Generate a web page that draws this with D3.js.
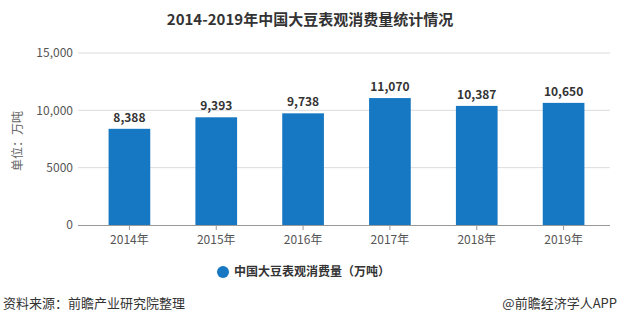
<!DOCTYPE html>
<html>
<head>
<meta charset="utf-8">
<script src="https://cdn.jsdelivr.net/npm/d3@7/dist/d3.min.js"></script>
<style>
  html, body { margin: 0; padding: 0; background: #fff; }
  svg { display: block; font-family: "Microsoft YaHei", "Noto Sans CJK SC", sans-serif; }
</style>
</head>
<body>
<svg id="chart" width="620" height="323"></svg>
<script>
// Apparent soybean consumption in China, 10k tonnes
const years = ["2014年", "2015年", "2016年", "2017年", "2018年", "2019年"];
const consumption = [8388, 9393, 9738, 11070, 10387, 10650];
const yTicks = [0, 5000, 10000, 15000];
const yTickLabels = ["0", "5000", "10,000", "15,000"];

const svg = d3.select("#chart");
const margin = { left: 86, right: 13, top: 53, bottom: 98 };
const W = 620, H = 323;

const x = d3.scaleBand().domain(years).range([margin.left, W - margin.right]).paddingInner(0.52).paddingOuter(0.26);
const y = d3.scaleLinear().domain([0, 15000]).range([H - margin.bottom, margin.top]);

// title
svg.append("text").attr("x", 310).attr("y", 25).attr("text-anchor", "middle")
  .attr("font-size", 15).attr("font-weight", "bold").attr("fill", "#333")
  .text("2014-2019年中国大豆表观消费量统计情况");

// gridlines
svg.append("g").selectAll("line").data(yTicks.slice(1)).join("line")
  .attr("x1", 78).attr("x2", 610).attr("y1", d => y(d)).attr("y2", d => y(d))
  .attr("stroke", "#dcdcdc").attr("stroke-width", 1);

// y tick labels
svg.append("g").selectAll("text").data(yTicks).join("text")
  .attr("x", 73).attr("y", d => y(d)).attr("dy", "0.35em").attr("text-anchor", "end")
  .attr("font-size", 12).attr("fill", "#555")
  .text((d, i) => yTickLabels[i]);

// y axis title
svg.append("text").attr("transform", `translate(22,${(y(0) + y(15000)) / 2 + 2}) rotate(-90)`)
  .attr("text-anchor", "middle").attr("font-size", 12).attr("fill", "#666")
  .text("单位：万吨");

// bars
svg.append("g").selectAll("rect").data(consumption).join("rect")
  .attr("x", (d, i) => x(years[i])).attr("width", x.bandwidth())
  .attr("y", d => y(d)).attr("height", d => y(0) - y(d))
  .attr("fill", "#1677c3");

// value labels
svg.append("g").selectAll("text").data(consumption).join("text")
  .attr("x", (d, i) => x(years[i]) + x.bandwidth() / 2).attr("y", d => y(d) - 7)
  .attr("text-anchor", "middle").attr("font-size", 12).attr("font-weight", "bold").attr("fill", "#333")
  .text(d => d3.format(",")(d));

// x axis
const xAxis = d3.axisBottom(x).tickSize(5).tickSizeOuter(0);
const gx = svg.append("g").attr("transform", `translate(0,${y(0)})`).call(xAxis);
gx.select(".domain").attr("d", `M78,0.5H610`).attr("stroke", "#999");
gx.selectAll(".tick line").attr("stroke", "#999");
gx.selectAll(".tick text").attr("font-size", 12).attr("fill", "#555").attr("dy", "0.9em")
  .attr("font-family", "\"Microsoft YaHei\", \"Noto Sans CJK SC\", sans-serif");

// legend
svg.append("circle").attr("cx", 223).attr("cy", 272).attr("r", 6).attr("fill", "#1677c3");
svg.append("text").attr("x", 234).attr("y", 272).attr("dy", "0.35em")
  .attr("font-size", 12).attr("font-weight", "bold").attr("fill", "#333")
  .text("中国大豆表观消费量（万吨）");

// footer
svg.append("text").attr("x", 3).attr("y", 303).attr("dy", "0.35em")
  .attr("font-size", 13).attr("fill", "#333").text("资料来源：前瞻产业研究院整理");
svg.append("text").attr("x", 617).attr("y", 303).attr("dy", "0.35em").attr("text-anchor", "end")
  .attr("font-size", 13).attr("fill", "#333").text("@前瞻经济学人APP");
</script>
</body>
</html>
